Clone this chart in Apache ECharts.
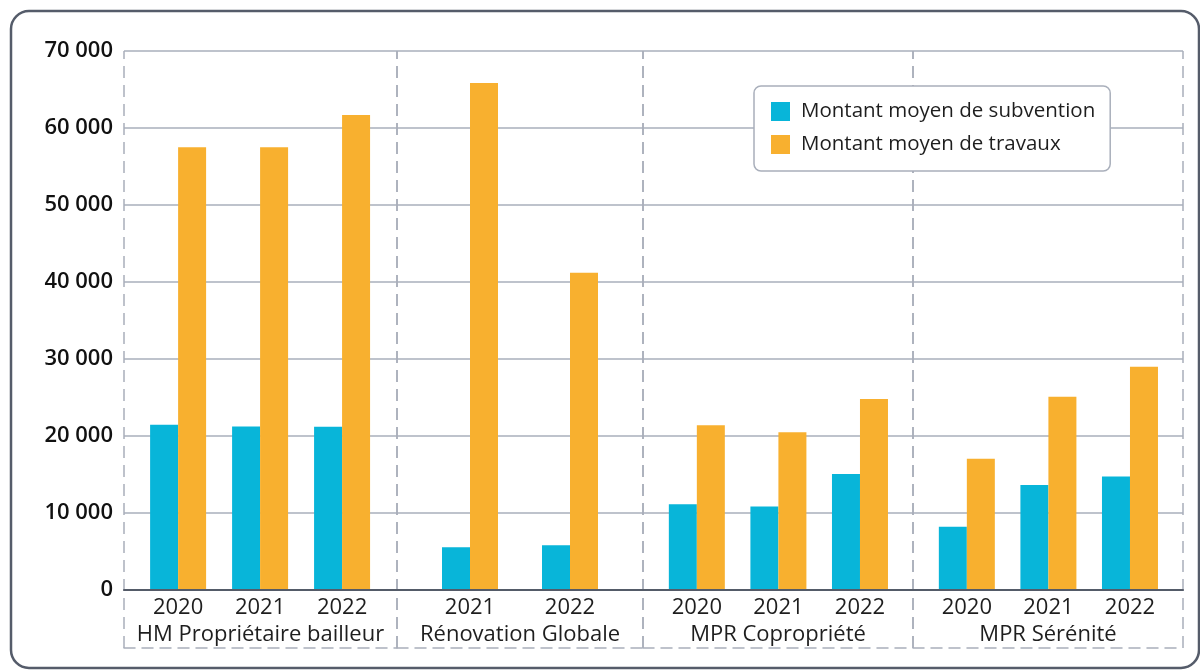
<!DOCTYPE html>
<html>
<head>
<meta charset="utf-8">
<script src="https://cdn.jsdelivr.net/npm/echarts@6/dist/echarts.min.js"></script>
<style>
  html, body { margin: 0; padding: 0; background: #fff; }
  #chart { width: 1200px; height: 672px; }
</style>
</head>
<body>
<div id="chart"></div>
<script>
const groups = ["HM Propriétaire bailleur", "Rénovation Globale", "MPR Copropriété", "MPR Sérénité"];
const years = [
  ["2020", "2021", "2022"],
  ["2021", "2022"],
  ["2020", "2021", "2022"],
  ["2020", "2021", "2022"],
];
const subvention = [
  [21450, 21250, 21200],
  [5550, 5800],
  [11150, 10850, 15050],
  [8200, 13650, 14750],
];
const travaux = [
  [57500, 57500, 61700],
  [65850, 41200],
  [21400, 20500, 24800],
  [17050, 25100, 29000],
];
const yTicks = [0, 10000, 20000, 30000, 40000, 50000, 60000, 70000];
const seriesNames = ["Montant moyen de subvention", "Montant moyen de travaux"];

// layout of the four panels (px + x padding in "year slots")
const panels = [
  { left: 124, width: 273, min: -0.66, max: 2.67 },
  { left: 397, width: 246, min: -0.73, max: 1.73 },
  { left: 643, width: 270, min: -0.66, max: 2.65 },
  { left: 913, width: 270, min: -0.66, max: 2.65 },
];

const FONT = "Open Sans";
const BLUE = "#08b5d9";
const ORANGE = "#f8b02f";
const GRID_COLOR = "#a9afbb";
const TEXT = "#1e1e1e";
const DASH = [12, 7];

const fmt = (v) => String(v).replace(/\B(?=(\d{3})+(?!\d))/g, " ");

const grid = [];
const xAxis = [];
const yAxis = [];
const series = [];

panels.forEach((p, g) => {
  grid.push({ left: p.left, width: p.width, top: 51, height: 539 });

  // main axis : years + group name
  xAxis.push({
    type: "value",
    gridIndex: g,
    min: p.min,
    max: p.max,
    position: "bottom",
    name: groups[g],
    nameLocation: "middle",
    nameGap: 29,
    nameTextStyle: { fontFamily: FONT, fontSize: 22, color: TEXT },
    axisLine: { show: true, lineStyle: { color: "#545b68", width: 2 } },
    axisTick: { show: false },
    axisLabel: {
      customValues: years[g].map((_, i) => i),
      formatter: (v) => years[g][Math.round(v)],
      fontFamily: FONT,
      fontSize: 22,
      color: TEXT,
      margin: 7,
    },
    splitLine: { show: false },
    z: 3,
  });
  // dashed frame: bottom line + vertical separators running up to the top
  xAxis.push({
    type: "value",
    gridIndex: g,
    min: p.min,
    max: p.max,
    position: "bottom",
    offset: 58,
    axisLine: { show: true, lineStyle: { color: GRID_COLOR, width: 1.5, type: [11, 7] } },
    axisTick: {
      show: true,
      inside: true,
      customValues: [p.min, p.max],
      length: 597,
      lineStyle: { color: GRID_COLOR, width: 1.5, type: DASH },
    },
    axisLabel: { show: false },
    splitLine: { show: false },
  });

  yAxis.push({
    type: "value",
    gridIndex: g,
    min: yTicks[0],
    max: yTicks[yTicks.length - 1],
    interval: yTicks[1] - yTicks[0],
    axisLine: { show: false },
    axisTick: { show: false },
    axisLabel: {
      show: g === 0,
      formatter: fmt,
      fontFamily: FONT,
      fontSize: 22,
      fontWeight: 600,
      color: "#111",
      margin: 11,
    },
    splitLine: { lineStyle: { color: GRID_COLOR, width: 1.5 } },
  });

  [subvention, travaux].forEach((vals, s) => {
    series.push({
      name: seriesNames[s],
      type: "bar",
      xAxisIndex: g * 2,
      yAxisIndex: g,
      barWidth: 28,
      barGap: "0%",
      itemStyle: { color: s === 0 ? BLUE : ORANGE },
      data: vals[g].map((v, i) => [i, v]),
    });
  });
});

const chart = echarts.init(document.getElementById("chart"));
chart.setOption({
  animation: false,
  backgroundColor: "#fff",
  textStyle: { fontFamily: FONT },
  graphic: [
    {
      type: "rect",
      shape: { x: 11, y: 11, width: 1188, height: 657, r: 18 },
      style: { fill: "none", stroke: "#555c6a", lineWidth: 2.5 },
      silent: true,
    },
  ],
  legend: {
    data: seriesNames,
    orient: "vertical",
    left: 754,
    top: 86,
    padding: [15, 15, 16, 17],
    itemGap: 12,
    itemWidth: 31,
    itemHeight: 19,
    icon: "path://M0,0h10v10h-10z",
    backgroundColor: "#fff",
    borderColor: GRID_COLOR,
    borderWidth: 1.5,
    borderRadius: 7,
    textStyle: { fontFamily: FONT, fontSize: 20.5, color: TEXT, lineHeight: 20 },
  },
  grid,
  xAxis,
  yAxis,
  series,
});
</script>
</body>
</html>
